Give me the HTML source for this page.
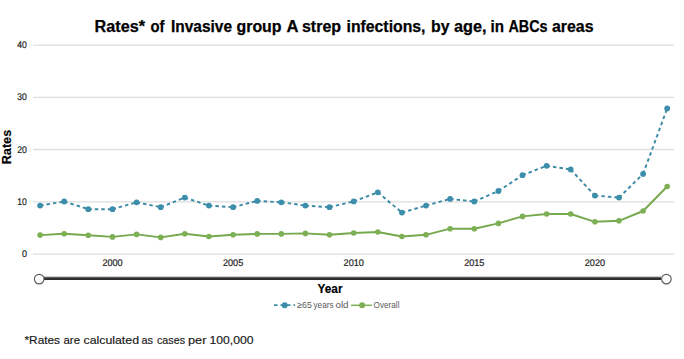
<!DOCTYPE html>
<html><head><meta charset="utf-8"><style>
html,body{margin:0;padding:0;background:#fff;width:684px;height:359px;overflow:hidden}
svg{position:absolute;left:0;top:0;font-family:"Liberation Sans",sans-serif}
</style></head><body>
<svg width="684" height="359" viewBox="0 0 684 359">
<rect x="0" y="0" width="684" height="359" fill="#fff"/>
<g font-size="16" font-weight="bold" fill="#000" stroke="#000" stroke-width="0.25"><text x="94.5" y="31.5" textLength="50.5" lengthAdjust="spacingAndGlyphs">Rates*</text><text x="150.5" y="31.5" textLength="14.0" lengthAdjust="spacingAndGlyphs">of</text><text x="171.0" y="31.5" textLength="61.0" lengthAdjust="spacingAndGlyphs">Invasive</text><text x="236.5" y="31.5" textLength="45.0" lengthAdjust="spacingAndGlyphs">group</text><text x="286.5" y="31.5" textLength="12.0" lengthAdjust="spacingAndGlyphs">A</text><text x="302.0" y="31.5" textLength="39.0" lengthAdjust="spacingAndGlyphs">strep</text><text x="346.5" y="31.5" textLength="79.0" lengthAdjust="spacingAndGlyphs">infections,</text><text x="431.0" y="31.5" textLength="18.5" lengthAdjust="spacingAndGlyphs">by</text><text x="454.0" y="31.5" textLength="32.5" lengthAdjust="spacingAndGlyphs">age,</text><text x="490.5" y="31.5" textLength="13.5" lengthAdjust="spacingAndGlyphs">in</text><text x="508.5" y="31.5" textLength="39.0" lengthAdjust="spacingAndGlyphs">ABCs</text><text x="552.0" y="31.5" textLength="41.5" lengthAdjust="spacingAndGlyphs">areas</text></g>
<line x1="33" x2="674" y1="45.1" y2="45.1" stroke="#dedede" stroke-width="1.3"/><line x1="33" x2="674" y1="97.4" y2="97.4" stroke="#dedede" stroke-width="1.3"/><line x1="33" x2="674" y1="149.5" y2="149.5" stroke="#dedede" stroke-width="1.3"/><line x1="33" x2="674" y1="201.8" y2="201.8" stroke="#dedede" stroke-width="1.3"/><line x1="33" x2="674" y1="254.1" y2="254.1" stroke="#dedede" stroke-width="1.3"/>
<text x="17.299999999999997" y="47.9" font-size="9.7" text-rendering="geometricPrecision" fill="#1e1e1e" stroke="#1e1e1e" stroke-width="0.2" textLength="9.6" lengthAdjust="spacingAndGlyphs">40</text><text x="17.299999999999997" y="100.0" font-size="9.7" text-rendering="geometricPrecision" fill="#1e1e1e" stroke="#1e1e1e" stroke-width="0.2" textLength="9.6" lengthAdjust="spacingAndGlyphs">30</text><text x="17.299999999999997" y="153.0" font-size="9.7" text-rendering="geometricPrecision" fill="#1e1e1e" stroke="#1e1e1e" stroke-width="0.2" textLength="9.6" lengthAdjust="spacingAndGlyphs">20</text><text x="17.299999999999997" y="205.0" font-size="9.7" text-rendering="geometricPrecision" fill="#1e1e1e" stroke="#1e1e1e" stroke-width="0.2" textLength="9.6" lengthAdjust="spacingAndGlyphs">10</text><text x="21.9" y="257.0" font-size="9.7" text-rendering="geometricPrecision" fill="#1e1e1e" stroke="#1e1e1e" stroke-width="0.2" textLength="5.0" lengthAdjust="spacingAndGlyphs">0</text>
<text transform="translate(10.5,0) rotate(-90)" x="-164.3" y="0" font-size="12" font-weight="bold" fill="#000" stroke="#000" stroke-width="0.15" textLength="34.5" lengthAdjust="spacingAndGlyphs">Rates</text>
<polyline points="40.1,235.1 64.2,233.7 88.3,235.3 112.5,236.9 136.6,234.4 160.7,237.4 184.8,233.7 208.9,236.5 233.1,234.8 257.2,233.9 281.3,233.9 305.4,233.4 329.5,234.8 353.7,233.0 377.8,232.0 401.9,236.5 426.0,234.8 450.1,228.7 474.3,228.7 498.4,223.4 522.5,216.4 546.6,214.0 570.7,214.0 594.9,221.8 619.0,220.8 643.1,211.0 667.2,186.5" fill="none" stroke="#76a84e" stroke-width="1.9" stroke-linejoin="round"/>
<circle cx="40.1" cy="235.1" r="2.8" fill="#7db054"/><circle cx="64.2" cy="233.7" r="2.8" fill="#7db054"/><circle cx="88.3" cy="235.3" r="2.8" fill="#7db054"/><circle cx="112.5" cy="236.9" r="2.8" fill="#7db054"/><circle cx="136.6" cy="234.4" r="2.8" fill="#7db054"/><circle cx="160.7" cy="237.4" r="2.8" fill="#7db054"/><circle cx="184.8" cy="233.7" r="2.8" fill="#7db054"/><circle cx="208.9" cy="236.5" r="2.8" fill="#7db054"/><circle cx="233.1" cy="234.8" r="2.8" fill="#7db054"/><circle cx="257.2" cy="233.9" r="2.8" fill="#7db054"/><circle cx="281.3" cy="233.9" r="2.8" fill="#7db054"/><circle cx="305.4" cy="233.4" r="2.8" fill="#7db054"/><circle cx="329.5" cy="234.8" r="2.8" fill="#7db054"/><circle cx="353.7" cy="233.0" r="2.8" fill="#7db054"/><circle cx="377.8" cy="232.0" r="2.8" fill="#7db054"/><circle cx="401.9" cy="236.5" r="2.8" fill="#7db054"/><circle cx="426.0" cy="234.8" r="2.8" fill="#7db054"/><circle cx="450.1" cy="228.7" r="2.8" fill="#7db054"/><circle cx="474.3" cy="228.7" r="2.8" fill="#7db054"/><circle cx="498.4" cy="223.4" r="2.8" fill="#7db054"/><circle cx="522.5" cy="216.4" r="2.8" fill="#7db054"/><circle cx="546.6" cy="214.0" r="2.8" fill="#7db054"/><circle cx="570.7" cy="214.0" r="2.8" fill="#7db054"/><circle cx="594.9" cy="221.8" r="2.8" fill="#7db054"/><circle cx="619.0" cy="220.8" r="2.8" fill="#7db054"/><circle cx="643.1" cy="211.0" r="2.8" fill="#7db054"/><circle cx="667.2" cy="186.5" r="2.8" fill="#7db054"/>
<g stroke="#3a89a4" stroke-width="1.9" stroke-dasharray="3.5 3" fill="none"><line x1="40.1" y1="205.6" x2="64.2" y2="201.5"/><line x1="64.2" y1="201.5" x2="88.3" y2="209.2"/><line x1="88.3" y1="209.2" x2="112.5" y2="209.2"/><line x1="112.5" y1="209.2" x2="136.6" y2="202.3"/><line x1="136.6" y1="202.3" x2="160.7" y2="207.2"/><line x1="160.7" y1="207.2" x2="184.8" y2="197.6"/><line x1="184.8" y1="197.6" x2="208.9" y2="205.6"/><line x1="208.9" y1="205.6" x2="233.1" y2="207.2"/><line x1="233.1" y1="207.2" x2="257.2" y2="200.9"/><line x1="257.2" y1="200.9" x2="281.3" y2="202.3"/><line x1="281.3" y1="202.3" x2="305.4" y2="205.6"/><line x1="305.4" y1="205.6" x2="329.5" y2="207.2"/><line x1="329.5" y1="207.2" x2="353.7" y2="201.4"/><line x1="353.7" y1="201.4" x2="377.8" y2="192.3"/><line x1="377.8" y1="192.3" x2="401.9" y2="212.6"/><line x1="401.9" y1="212.6" x2="426.0" y2="205.6"/><line x1="426.0" y1="205.6" x2="450.1" y2="198.9"/><line x1="450.1" y1="198.9" x2="474.3" y2="201.5"/><line x1="474.3" y1="201.5" x2="498.4" y2="191.0"/><line x1="498.4" y1="191.0" x2="522.5" y2="175.2"/><line x1="522.5" y1="175.2" x2="546.6" y2="165.8"/><line x1="546.6" y1="165.8" x2="570.7" y2="169.5"/><line x1="570.7" y1="169.5" x2="594.9" y2="195.6"/><line x1="594.9" y1="195.6" x2="619.0" y2="197.6"/><line x1="619.0" y1="197.6" x2="643.1" y2="173.9"/><line x1="643.1" y1="173.9" x2="667.2" y2="108.4"/></g>
<circle cx="40.1" cy="205.6" r="2.9" fill="#3d8eab"/><circle cx="64.2" cy="201.5" r="2.9" fill="#3d8eab"/><circle cx="88.3" cy="209.2" r="2.9" fill="#3d8eab"/><circle cx="112.5" cy="209.2" r="2.9" fill="#3d8eab"/><circle cx="136.6" cy="202.3" r="2.9" fill="#3d8eab"/><circle cx="160.7" cy="207.2" r="2.9" fill="#3d8eab"/><circle cx="184.8" cy="197.6" r="2.9" fill="#3d8eab"/><circle cx="208.9" cy="205.6" r="2.9" fill="#3d8eab"/><circle cx="233.1" cy="207.2" r="2.9" fill="#3d8eab"/><circle cx="257.2" cy="200.9" r="2.9" fill="#3d8eab"/><circle cx="281.3" cy="202.3" r="2.9" fill="#3d8eab"/><circle cx="305.4" cy="205.6" r="2.9" fill="#3d8eab"/><circle cx="329.5" cy="207.2" r="2.9" fill="#3d8eab"/><circle cx="353.7" cy="201.4" r="2.9" fill="#3d8eab"/><circle cx="377.8" cy="192.3" r="2.9" fill="#3d8eab"/><circle cx="401.9" cy="212.6" r="2.9" fill="#3d8eab"/><circle cx="426.0" cy="205.6" r="2.9" fill="#3d8eab"/><circle cx="450.1" cy="198.9" r="2.9" fill="#3d8eab"/><circle cx="474.3" cy="201.5" r="2.9" fill="#3d8eab"/><circle cx="498.4" cy="191.0" r="2.9" fill="#3d8eab"/><circle cx="522.5" cy="175.2" r="2.9" fill="#3d8eab"/><circle cx="546.6" cy="165.8" r="2.9" fill="#3d8eab"/><circle cx="570.7" cy="169.5" r="2.9" fill="#3d8eab"/><circle cx="594.9" cy="195.6" r="2.9" fill="#3d8eab"/><circle cx="619.0" cy="197.6" r="2.9" fill="#3d8eab"/><circle cx="643.1" cy="173.9" r="2.9" fill="#3d8eab"/><circle cx="667.2" cy="108.4" r="2.9" fill="#3d8eab"/>
<text x="102.4" y="266.2" font-size="9.7" text-rendering="geometricPrecision" fill="#1e1e1e" stroke="#1e1e1e" stroke-width="0.2" textLength="20.2" lengthAdjust="spacingAndGlyphs">2000</text><text x="223.0" y="266.2" font-size="9.7" text-rendering="geometricPrecision" fill="#1e1e1e" stroke="#1e1e1e" stroke-width="0.2" textLength="20.2" lengthAdjust="spacingAndGlyphs">2005</text><text x="343.6" y="266.2" font-size="9.7" text-rendering="geometricPrecision" fill="#1e1e1e" stroke="#1e1e1e" stroke-width="0.2" textLength="20.2" lengthAdjust="spacingAndGlyphs">2010</text><text x="464.2" y="266.2" font-size="9.7" text-rendering="geometricPrecision" fill="#1e1e1e" stroke="#1e1e1e" stroke-width="0.2" textLength="20.2" lengthAdjust="spacingAndGlyphs">2015</text><text x="584.8" y="266.2" font-size="9.7" text-rendering="geometricPrecision" fill="#1e1e1e" stroke="#1e1e1e" stroke-width="0.2" textLength="20.2" lengthAdjust="spacingAndGlyphs">2020</text>
<rect x="44" y="276.7" width="617" height="1.3" fill="#5e5e5e"/><rect x="44" y="278" width="617" height="2" fill="#2e2e2e"/>
<circle cx="39.2" cy="279.1" r="4.8" fill="#fff" stroke="#5a5a5a" stroke-width="1.15"/>
<circle cx="666.4" cy="279.1" r="4.8" fill="#fff" stroke="#5a5a5a" stroke-width="1.15"/>
<text x="317.5" y="292.8" font-size="12" font-weight="bold" fill="#000" stroke="#000" stroke-width="0.15" textLength="25" lengthAdjust="spacingAndGlyphs">Year</text>
<line x1="274" x2="295" y1="305.2" y2="305.2" stroke="#3d8eab" stroke-width="1.7" stroke-dasharray="3.5 3"/>
<circle cx="284.7" cy="305.2" r="3.0" fill="#3d8eab"/>
<g font-size="9" fill="#5a5a5a"><text x="297.2" y="307.8" textLength="14.6" lengthAdjust="spacingAndGlyphs">≥65</text><text x="313.5" y="307.8" textLength="20.0" lengthAdjust="spacingAndGlyphs">years</text><text x="335.5" y="307.8" textLength="13.0" lengthAdjust="spacingAndGlyphs">old</text><text x="373.5" y="307.8" textLength="26.0" lengthAdjust="spacingAndGlyphs">Overall</text></g>
<line x1="351.1" x2="371.8" y1="305.3" y2="305.3" stroke="#7db054" stroke-width="1.5"/>
<circle cx="362.1" cy="305.3" r="3.0" fill="#7db054"/>
<g font-size="11.5" fill="#1a1a1a" stroke="#1a1a1a" stroke-width="0.18"><text x="24.5" y="344" textLength="35.5" lengthAdjust="spacingAndGlyphs">*Rates</text><text x="63.5" y="344" textLength="16.5" lengthAdjust="spacingAndGlyphs">are</text><text x="83.5" y="344" textLength="55.5" lengthAdjust="spacingAndGlyphs">calculated</text><text x="141.5" y="344" textLength="11.5" lengthAdjust="spacingAndGlyphs">as</text><text x="157.0" y="344" textLength="28.0" lengthAdjust="spacingAndGlyphs">cases</text><text x="188.0" y="344" textLength="18.5" lengthAdjust="spacingAndGlyphs">per</text><text x="209.5" y="344" textLength="44.0" lengthAdjust="spacingAndGlyphs">100,000</text></g>
</svg>
</body></html>
